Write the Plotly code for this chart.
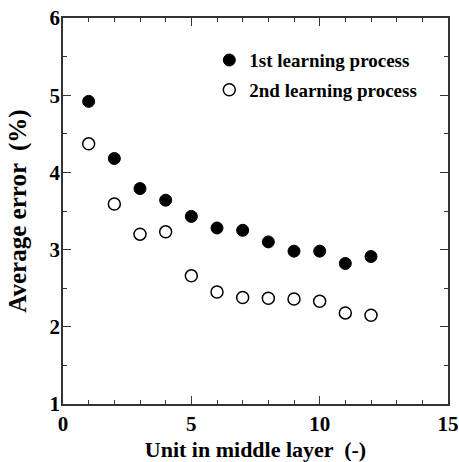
import plotly.graph_objects as go

units = [1, 2, 3, 4, 5, 6, 7, 8, 9, 10, 11, 12]
first_err = [4.92, 4.18, 3.79, 3.64, 3.43, 3.28, 3.25, 3.10, 2.98, 2.98, 2.82, 2.91]
second_err = [4.37, 3.59, 3.20, 3.23, 2.66, 2.45, 2.38, 2.37, 2.36, 2.33, 2.18, 2.15]
names = ["1st learning process", "2nd learning process"]

font_family = "Liberation Serif"

fig = go.Figure()
fig.add_trace(go.Scatter(
    x=units, y=first_err, mode="markers", name=names[0], legendgroup="a",
    marker=dict(symbol="circle", size=12, color="black", line=dict(color="black", width=1)),
))
fig.add_trace(go.Scatter(
    x=units, y=second_err, mode="markers", name=names[1], legendgroup="b",
    marker=dict(symbol="circle-open", size=12, color="black", line=dict(color="black", width=1.5)),
))

axis_common = dict(
    showline=True, linecolor="#333", linewidth=1.5, mirror="ticks",
    ticks="inside", tickcolor="#333", tickwidth=1.2, ticklen=8,
    showgrid=False, zeroline=False, automargin=False,
    tickfont=dict(family=font_family, size=21, color="black", weight="bold"),
)

fig.update_xaxes(
    range=[0, 15], tickvals=[0, 5, 10, 15],
    minor=dict(dtick=1, ticks="inside", ticklen=4, tickcolor="#333", tickwidth=1.2, showgrid=False),
    title=dict(text="Unit in middle layer  (-)", font=dict(family=font_family, size=22, color="black", weight="bold"), standoff=8),
    **axis_common,
)
fig.update_yaxes(
    range=[1, 6], tickvals=[1, 2, 3, 4, 5, 6],
    minor=dict(dtick=0.5, ticks="inside", ticklen=4, tickcolor="#333", tickwidth=1.2, showgrid=False),
    title=dict(text="Average error  (%)", font=dict(family=font_family, size=25, color="black", weight="bold"), standoff=16),
    ticklabelstandoff=-3,
    **axis_common,
)

fig.update_layout(
    width=459, height=462,
    margin=dict(l=63, r=11, t=18, b=58),
    plot_bgcolor="white", paper_bgcolor="white",
    showlegend=True,
    legend=dict(
        x=0.38, y=0.94, xanchor="left", yanchor="top",
        font=dict(family=font_family, size=19, color="black", weight="bold"),
        bgcolor="rgba(0,0,0,0)", traceorder="grouped", tracegroupgap=2,
    ),
)

fig.write_html("out.html")
